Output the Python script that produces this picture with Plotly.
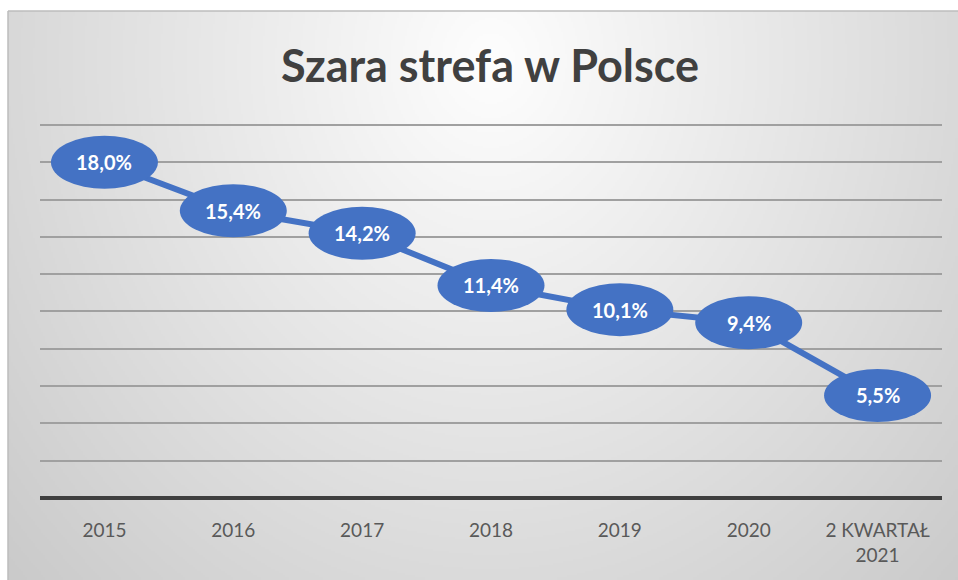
import zlib, struct, base64, math
import plotly.graph_objects as go

# ---- data ----
categories = ["2015", "2016", "2017", "2018", "2019", "2020", "2 KWARTAŁ<br>2021"]
values = [18.0, 15.4, 14.2, 11.4, 10.1, 9.4, 5.5]
title_text = "Szara strefa w Polsce"

W, H = 958, 580

# ---- radial gray gradient background as PNG ----
def make_png(w, h, func):
    raw = bytearray()
    for j in range(h):
        raw.append(0)
        for i in range(w):
            raw.append(func(i, j))
    def chunk(t, d):
        c = struct.pack(">I", len(d)) + t + d
        return c + struct.pack(">I", zlib.crc32(t + d) & 0xffffffff)
    png = b"\x89PNG\r\n\x1a\n"
    png += chunk(b"IHDR", struct.pack(">IIBBBBB", w, h, 8, 0, 0, 0, 0))
    png += chunk(b"IDAT", zlib.compress(bytes(raw), 9))
    png += chunk(b"IEND", b"")
    return "data:image/png;base64," + base64.b64encode(png).decode()

gw, gh = 475, 285
def grad(i, j):
    x = 8 + i * (W - 8) / gw
    y = 11 + j * (H - 11) / gh
    d = math.hypot((x - 490) / 560, (y - 60) / 640)
    v = 254 - 44 * d
    return int(max(200, min(255, v)))

bg = make_png(gw, gh, grad)

xs = list(range(len(categories)))

fig = go.Figure()
fig.add_trace(go.Scatter(
    x=xs, y=values, mode="lines",
    line=dict(color="#4472C4", width=6),
    hoverinfo="skip", showlegend=False,
))

shapes = []
annotations = []
for i, v in zip(xs, values):
    shapes.append(dict(
        type="circle", xref="x", yref="y",
        xsizemode="pixel", ysizemode="pixel",
        xanchor=i, yanchor=v,
        x0=-53.5, x1=53.5, y0=-26.5, y1=26.5,
        fillcolor="#4472C4", line=dict(width=0), layer="above",
    ))
    annotations.append(dict(
        x=i, y=v, xref="x", yref="y", showarrow=False,
        text=f"{v:.1f}".replace(".", ",") + "%",
        font=dict(family="Lato", size=20, color="white", weight="bold"),
    ))

# frame lines
shapes.append(dict(type="line", xref="paper", yref="paper",
                   x0=8 / W, x1=1, y0=1 - 11 / H, y1=1 - 11 / H,
                   line=dict(color="#BDBDBD", width=1.5)))
shapes.append(dict(type="line", xref="paper", yref="paper",
                   x0=8 / W, x1=8 / W, y0=0, y1=1 - 11 / H,
                   line=dict(color="#BDBDBD", width=1.5)))

annotations.append(dict(
    x=490 / W, y=1 - 65 / H, xref="paper", yref="paper",
    xanchor="center", yanchor="middle", showarrow=False,
    text=title_text,
    font=dict(family="Lato", size=45, color="#404040", weight="bold"),
))

ymax = 20.3
px_per_unit = (498 - 125) / 20.0
top_px = 498 - ymax * px_per_unit

fig.update_layout(
    width=W, height=H,
    margin=dict(l=0, r=0, t=0, b=0),
    paper_bgcolor="white",
    plot_bgcolor="rgba(0,0,0,0)",
    images=[dict(source=bg, xref="paper", yref="paper",
                 x=8 / W, y=1 - 11 / H, sizex=(W - 8) / W, sizey=(H - 11) / H,
                 xanchor="left", yanchor="top", sizing="stretch", layer="below")],
    shapes=shapes,
    annotations=annotations,
    xaxis=dict(
        domain=[40 / W, 942 / W], range=[-0.5, len(categories) - 0.5],
        tickmode="array", tickvals=xs, ticktext=categories,
        showgrid=False, zeroline=False, showline=False, ticks="",
        tickfont=dict(family="Lato", size=19, color="#595959"),
        ticklabelstandoff=19, fixedrange=True,
    ),
    yaxis=dict(
        domain=[(H - 498) / H, (H - top_px) / H], range=[0, ymax],
        tickvals=[2, 4, 6, 8, 10, 12, 14, 16, 18, 20],
        showticklabels=False, showgrid=True, gridcolor="#A0A0A0", gridwidth=2,
        zeroline=True, zerolinecolor="#3F3F3F", zerolinewidth=4,
        showline=False, ticks="", fixedrange=True,
    ),
    showlegend=False,
)

fig.write_html("out.html", config={"displayModeBar": False},
               post_script="document.body.style.margin='0';")
